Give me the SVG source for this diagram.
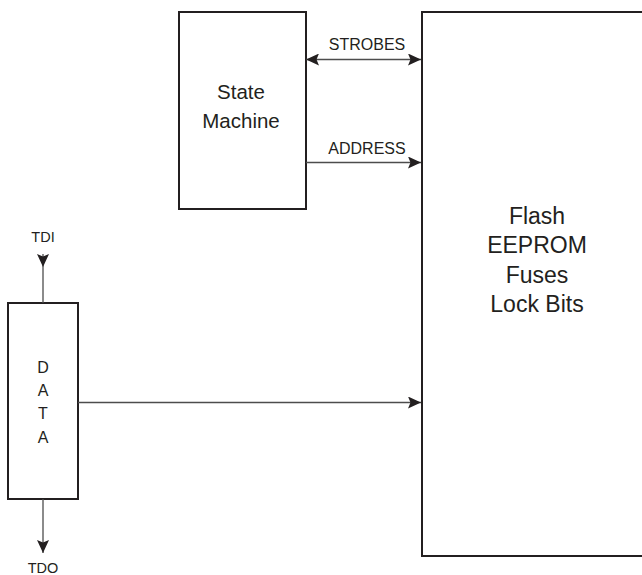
<svg xmlns="http://www.w3.org/2000/svg" width="642" height="575" viewBox="0 0 642 575">
<style>
.box{fill:#fff;stroke:#231f20;stroke-width:2}
.wire{fill:none;stroke:#4d4d4d;stroke-width:1.3}
.t{font-family:"Liberation Sans",Arial,sans-serif;fill:#231f20;text-anchor:middle}
.head{fill:#231f20}
</style>
<defs>
<marker id="arr" markerUnits="userSpaceOnUse" markerWidth="14" markerHeight="12" refX="13" refY="6" orient="auto-start-reverse" viewBox="0 0 14 12">
<path d="M0,0 L13,6 L0,12 L2.5,6 z" class="head"/>
</marker>
</defs>
<rect width="642" height="575" fill="#fff"/>
<g id="state-machine">
<rect class="box" x="179" y="12" width="127" height="197"/>
<text class="t" x="241" y="99" font-size="20.5">State</text>
<text class="t" x="241" y="128" font-size="20.5">Machine</text>
</g>
<g id="flash">
<rect class="box" x="422" y="12" width="240" height="544"/>
<text class="t" x="537" y="224" font-size="23">Flash</text>
<text class="t" x="537" y="253" font-size="23">EEPROM</text>
<text class="t" x="537" y="282.5" font-size="23">Fuses</text>
<text class="t" x="537" y="311.5" font-size="23">Lock Bits</text>
</g>
<g id="data">
<rect class="box" x="8" y="303" width="70" height="196"/>
<text class="t" x="43" y="373" font-size="16">D</text>
<text class="t" x="43" y="396" font-size="16">A</text>
<text class="t" x="43" y="419" font-size="16">T</text>
<text class="t" x="43" y="443" font-size="16">A</text>
</g>
<g id="connectors">
<line class="wire" x1="306" y1="59.5" x2="421" y2="59.5" marker-start="url(#arr)" marker-end="url(#arr)"/>
<text class="t" x="367" y="50" font-size="16">STROBES</text>
<line class="wire" x1="306" y1="162.5" x2="421" y2="162.5" marker-end="url(#arr)"/>
<text class="t" x="367" y="154" font-size="16">ADDRESS</text>
<line class="wire" x1="78" y1="402.5" x2="421" y2="402.5" marker-end="url(#arr)"/>
<line class="wire" x1="43" y1="254" x2="43" y2="303"/>
<path class="head" d="M37,254 L43,267 L49,254 L43,256.5 z"/>
<text class="t" x="43" y="242" font-size="14.5">TDI</text>
<line class="wire" x1="43" y1="499" x2="43" y2="553" marker-end="url(#arr)"/>
<text class="t" x="43" y="573" font-size="14.5">TDO</text>
</g>
</svg>
